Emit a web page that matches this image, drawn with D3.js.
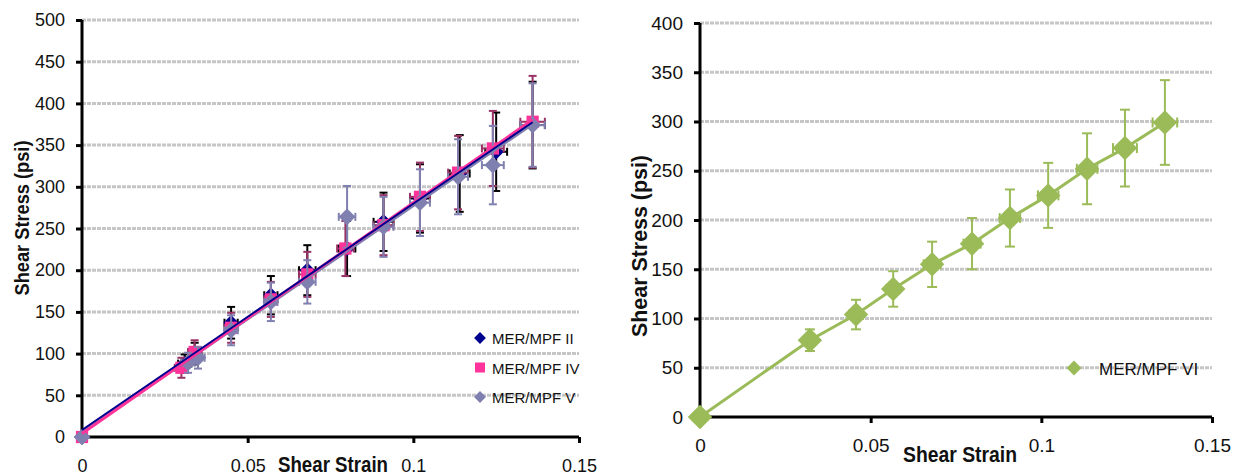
<!DOCTYPE html>
<html>
<head>
<meta charset="utf-8">
<script src="https://cdn.jsdelivr.net/npm/d3@7"></script>
<style>
  body { margin: 0; background: #fff; }
  text { font-family: "Liberation Sans", Arial, sans-serif; fill: #111; }
</style>
</head>
<body>
<svg id="chart" width="1244" height="476"></svg>
<script>
// ---- data ----
// left chart: three series, each with its own strain values
const iiStrain  = [0, 0.031, 0.034, 0.045, 0.057, 0.068, 0.080, 0.091, 0.102, 0.114, 0.125, 0.136];
const iiStress  = [0, 88, 100, 137, 170, 200, 226, 258, 286, 316, 342, 374];
const iiErr     = [0, 11, 13, 19, 23, 30, 33, 35, 41, 46, 47, 52];

const ivStrain  = [0, 0.030, 0.034, 0.045, 0.057, 0.068, 0.0795, 0.091, 0.102, 0.1135, 0.124, 0.136];
const ivStress  = [0, 83, 102, 131, 165, 195, 226, 254, 288, 317, 346, 378];
const ivErr     = [0, 12, 14, 18, 21, 27, 33, 36, 41, 44, 45, 55];

const vStrain   = [0, 0.032, 0.035, 0.045, 0.057, 0.068, 0.080, 0.091, 0.102, 0.1135, 0.124, 0.136];
const vStress   = [0, 89, 95, 128, 162, 186, 264, 252, 281, 312, 326, 374];
const vErr      = [0, 12, 13, 18, 23, 26, 37, 36, 40, 45, 47, 50];

const leftXErr  = [0, 0.002, 0.002, 0.002, 0.002, 0.0025, 0.0025, 0.003, 0.003, 0.003, 0.0033, 0.0037];

// right chart: one series
const viStrain  = [0, 0.0322, 0.0457, 0.0566, 0.068, 0.0797, 0.0908, 0.102, 0.1134, 0.1245, 0.1362];
const viStress  = [0, 78, 104, 130, 155, 176, 202, 225, 252, 273, 299];
const viErr     = [0, 11, 15, 18, 23, 26, 29, 33, 36, 39, 43];
const viXErr    = [0, 0.0015, 0.002, 0.002, 0.0025, 0.0025, 0.003, 0.003, 0.003, 0.0035, 0.0036];

const xTicks = [0, 0.05, 0.1, 0.15];
const leftYTicks = [0, 50, 100, 150, 200, 250, 300, 350, 400, 450, 500];
const rightYTicks = [0, 50, 100, 150, 200, 250, 300, 350, 400];

const svg = d3.select("#chart");

const zip = (xs, ys, ye, xe) => xs.map((x, i) => ({x: x, y: ys[i], ye: ye[i], xe: xe[i]}));

// draws axes, grid, titles for one panel
function panel(g, x, y, yTicks, o) {
  // dashed gridlines
  g.append("g")
    .selectAll("line")
    .data(yTicks.filter(d => d > 0))
    .enter().append("line")
      .attr("x1", x.range()[0])
      .attr("x2", x.range()[1])
      .attr("y1", d => y(d))
      .attr("y2", d => y(d))
      .attr("stroke", "#c6c6c6")
      .attr("stroke-width", 3)
      .attr("stroke-dasharray", "4,1");

  const yAxis = g.append("g")
    .attr("transform", "translate(" + x.range()[0] + ",0)")
    .call(d3.axisLeft(y).tickValues(yTicks).tickSize(6).tickPadding(o.yPad).tickFormat(d3.format("d")));
  yAxis.select(".domain").attr("stroke", "#000").attr("stroke-width", 3)
    .attr("d", "M0," + y.range()[1] + "V" + y.range()[0]);
  yAxis.selectAll(".tick line").attr("stroke", "#000").attr("stroke-width", 3);
  yAxis.selectAll("text").style("font-size", o.tickFont + "px")
    .style("font-family", "'Liberation Sans', Arial, sans-serif").attr("fill", "#111");

  const xAxis = g.append("g")
    .attr("transform", "translate(0," + y.range()[0] + ")")
    .call(d3.axisBottom(x).tickValues(xTicks).tickSize(6).tickPadding(o.xPad).tickFormat(d => d === 0 ? "0" : String(d)));
  xAxis.select(".domain").attr("stroke", "#000").attr("stroke-width", 3)
    .attr("d", "M" + x.range()[0] + ",0H" + x.range()[1]);
  xAxis.selectAll(".tick line").attr("stroke", "#000").attr("stroke-width", 3)
    .filter(d => d === 0).remove();
  xAxis.selectAll("text").style("font-size", o.tickFont + "px")
    .style("font-family", "'Liberation Sans', Arial, sans-serif").attr("fill", "#111");

  g.append("text")
    .attr("x", o.xTitle[0]).attr("y", o.xTitle[1])
    .attr("text-anchor", "middle")
    .attr("font-weight", "bold")
    .attr("font-size", o.titleFont)
    .attr("textLength", o.xTitleLen)
    .attr("lengthAdjust", "spacingAndGlyphs")
    .text("Shear Strain");

  g.append("text")
    .attr("transform", "translate(" + o.yTitle[0] + "," + o.yTitle[1] + ") rotate(-90)")
    .attr("text-anchor", "middle")
    .attr("font-weight", "bold")
    .attr("font-size", o.yTitleFont)
    .attr("textLength", o.yTitleLen)
    .attr("lengthAdjust", "spacingAndGlyphs")
    .text("Shear Stress (psi)");
}

function errorBars(g, x, y, pts, color, cap) {
  const eb = g.append("g").attr("stroke", color).attr("stroke-width", 2).attr("fill", "none");
  pts.filter(p => p.ye > 0).forEach(p => {
    const cx = x(p.x), cy = y(p.y);
    const t = y(p.y + p.ye), b = y(p.y - p.ye);
    eb.append("line").attr("x1", cx).attr("x2", cx).attr("y1", t).attr("y2", b);
    eb.append("line").attr("x1", cx - cap).attr("x2", cx + cap).attr("y1", t).attr("y2", t);
    eb.append("line").attr("x1", cx - cap).attr("x2", cx + cap).attr("y1", b).attr("y2", b);
    const l = x(p.x - p.xe), r = x(p.x + p.xe);
    eb.append("line").attr("x1", l).attr("x2", r).attr("y1", cy).attr("y2", cy);
    eb.append("line").attr("x1", l).attr("x2", l).attr("y1", cy - cap).attr("y2", cy + cap);
    eb.append("line").attr("x1", r).attr("x2", r).attr("y1", cy - cap).attr("y2", cy + cap);
  });
}

function markers(g, x, y, pts, color, type, size) {
  g.append("g")
    .selectAll("path")
    .data(pts)
    .enter().append("path")
      .attr("transform", d => "translate(" + x(d.x) + "," + y(d.y) + ")")
      .attr("d", d3.symbol().type(type).size(size))
      .attr("fill", color);
}

const diamond = {
  draw: function(ctx, size) {
    const r = Math.sqrt(size / 2);
    ctx.moveTo(0, -r); ctx.lineTo(r, 0); ctx.lineTo(0, r); ctx.lineTo(-r, 0); ctx.closePath();
  }
};

// least squares trend line
function fit(pts) {
  const mx = d3.mean(pts, p => p.x), my = d3.mean(pts, p => p.y);
  const sxy = d3.sum(pts, p => (p.x - mx) * (p.y - my));
  const sxx = d3.sum(pts, p => (p.x - mx) * (p.x - mx));
  const m = sxy / sxx;
  return {m: m, b: my - m * mx};
}

// ---------------- left chart ----------------
const xL = d3.scaleLinear().domain([0, 0.15]).range([82, 579]);
const yL = d3.scaleLinear().domain([0, 500]).range([437, 20]);
const gL = svg.append("g");
panel(gL, xL, yL, leftYTicks, {
  yPad: 11, xPad: 16, tickFont: 18, titleFont: 22,
  xTitle: [333, 472], xTitleLen: 110,
  yTitle: [29, 218], yTitleFont: 20, yTitleLen: 155
});

const leftSeries = [
  {name: "MER/MPF II", pts: zip(iiStrain, iiStress, iiErr, leftXErr), color: "#00008f", err: "#000", type: diamond, size: 120, lw: 2},
  {name: "MER/MPF IV", pts: zip(ivStrain, ivStress, ivErr, leftXErr), color: "#ff3399", err: "#993366", type: d3.symbolSquare, size: 150, lw: 3},
  {name: "MER/MPF V", pts: zip(vStrain, vStress, vErr, leftXErr), color: "#8080b0", err: "#8080b0", type: diamond, size: 140, lw: 3}
];

leftSeries.forEach(s => {
  errorBars(gL, xL, yL, s.pts, s.err, 4);
  markers(gL, xL, yL, s.pts, s.color, s.type, s.size);
});

// trend lines, lavender first so pink and navy sit above
leftSeries.slice().reverse().forEach(s => {
  const f = fit(s.pts);
  const xMax = d3.max(s.pts, p => p.x);
  gL.append("path")
    .datum([0, xMax])
    .attr("d", d3.line().x(d => xL(d)).y(d => yL(f.m * d + f.b)))
    .attr("stroke", s.color)
    .attr("stroke-width", s.lw)
    .attr("fill", "none");
});

// legend
const legL = gL.append("g").attr("transform", "translate(480,338)");
leftSeries.forEach((s, i) => {
  const row = legL.append("g").attr("transform", "translate(0," + (i * 29.5) + ")");
  row.append("path").attr("d", d3.symbol().type(s.type).size(s.type === diamond ? 70 : 100)).attr("fill", s.color);
  row.append("text").attr("x", 12).attr("y", 6).attr("font-size", 15).text(s.name);
});

// ---------------- right chart ----------------
const xR = d3.scaleLinear().domain([0, 0.15]).range([700, 1212]);
const yR = d3.scaleLinear().domain([0, 400]).range([417, 23]);
const gR = svg.append("g");
panel(gR, xR, yR, rightYTicks, {
  yPad: 11, xPad: 16, tickFont: 19, titleFont: 22,
  xTitle: [960, 462], xTitleLen: 114,
  yTitle: [647, 246], yTitleFont: 22, yTitleLen: 182
});

const viPts = zip(viStrain, viStress, viErr, viXErr);
const green = "#9bbb59";
errorBars(gR, xR, yR, viPts, green, 5);
gR.append("path")
  .datum(viPts)
  .attr("d", d3.line().x(d => xR(d.x)).y(d => yR(d.y)))
  .attr("stroke", green)
  .attr("stroke-width", 3)
  .attr("fill", "none");
markers(gR, xR, yR, viPts, green, diamond, 300);

const legR = gR.append("g").attr("transform", "translate(1074,368)");
legR.append("path").attr("d", d3.symbol().type(diamond).size(110)).attr("fill", green);
legR.append("text").attr("x", 25).attr("y", 7).attr("font-size", 17).text("MER/MPF VI");
</script>
</body>
</html>
